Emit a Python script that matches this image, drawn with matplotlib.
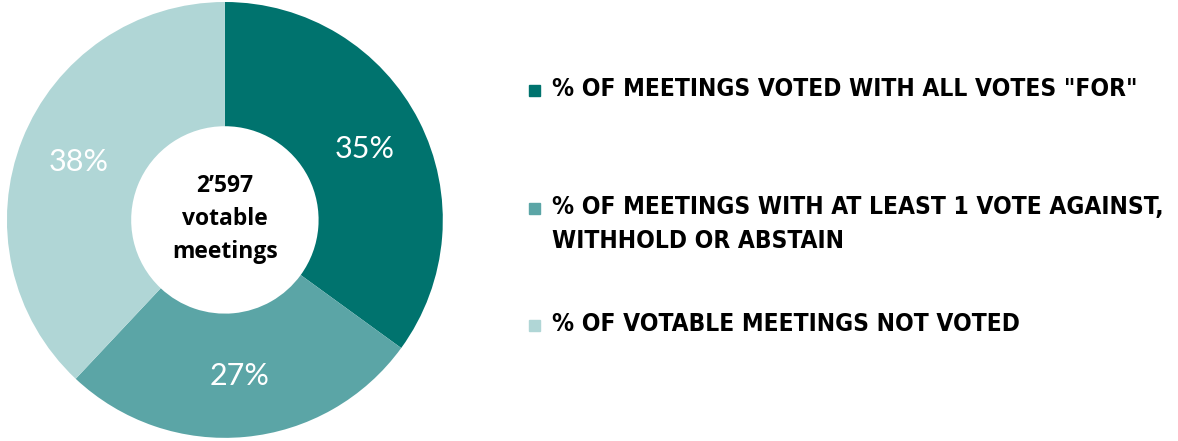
import matplotlib
matplotlib.use("Agg")
import matplotlib.pyplot as plt

shares = [35, 27, 38]
labels = ["% OF MEETINGS VOTED WITH ALL VOTES \"FOR\"",
          "% OF MEETINGS WITH AT LEAST 1 VOTE AGAINST,\nWITHHOLD OR ABSTAIN",
          "% OF VOTABLE MEETINGS NOT VOTED"]
colors = ["#00736e", "#5ba5a6", "#b0d6d6"]
center_text = ["2\u2019597", "votable", "meetings"]

fig = plt.figure(figsize=(11.78, 4.41), dpi=100)
ax = fig.add_axes([0.0059, 0.0068, 0.370, 0.989])
wedges, texts = ax.pie(shares, colors=colors, startangle=90, counterclock=False,
                       radius=1.0, wedgeprops=dict(width=0.57, linewidth=0),
                       labels=[f"{s}%" for s in shares], labeldistance=0.72,
                       textprops=dict(color="white", fontsize=22, family="Lato",
                                      fontweight="normal", ha="center", va="center"))
ax.set_aspect("equal")
ax.set_xlim(-1, 1)
ax.set_ylim(-1, 1)

# center label, baselines
for s, yy in zip(center_text, [0.128, -0.023, -0.174]):
    ax.text(0, yy, s, ha="center", va="baseline", fontsize=16.5,
            fontweight="bold", family="Open Sans")

rows_y = [90, 208, 325]
for lab, col, y in zip(labels, colors, rows_y):
    fy = 1 - y / 441
    fig.patches.append(plt.Rectangle((529 / 1178, fy - 6 / 441), 11 / 1178, 11 / 441,
                                     transform=fig.transFigure, color=col))
    fig.text(552 / 1178, fy + 13 / 441, lab, ha="left", va="top",
             fontsize=17.6, fontweight="bold", family="DejaVu Sans",
             fontstretch="condensed", linespacing=1.5)

fig.savefig("out.png", dpi=100, facecolor="white")
